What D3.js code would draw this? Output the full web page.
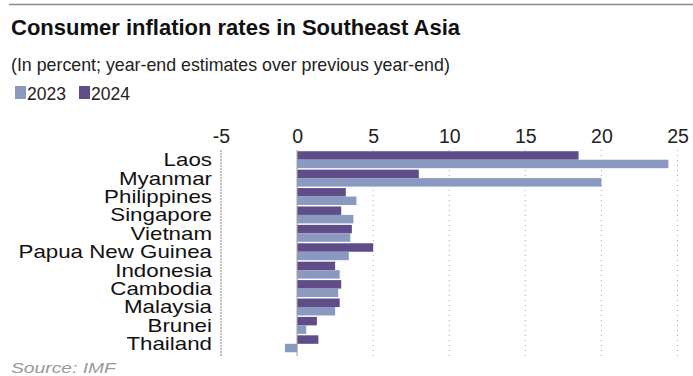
<!DOCTYPE html>
<html>
<head>
<meta charset="utf-8">
<script src="https://cdn.jsdelivr.net/npm/d3@7"></script>
<style>
  body { margin: 0; background: #fff; }
  text { font-family: "Liberation Sans", Arial, sans-serif; }
</style>
</head>
<body>
<script>
// Data
const countries = ["Laos", "Myanmar", "Philippines", "Singapore", "Vietnam",
  "Papua New Guinea", "Indonesia", "Cambodia", "Malaysia", "Brunei", "Thailand"];
const values2024 = [18.5, 8.0, 3.2, 2.9, 3.6, 5.0, 2.5, 2.9, 2.8, 1.3, 1.4];
const values2023 = [24.4, 20.0, 3.9, 3.7, 3.5, 3.4, 2.8, 2.7, 2.5, 0.6, -0.8];
const tickValues = [-5, 0, 5, 10, 15, 20, 25];

const W = 693, H = 376;
const colors = {"2023": "#8a99bf", "2024": "#5f4c88"};

const svg = d3.select("body").append("svg")
  .attr("width", W)
  .attr("height", H);

// top rule
svg.append("line")
  .attr("x1", 9).attr("x2", W).attr("y1", 4.5).attr("y2", 4.5)
  .attr("stroke", "#8a8a8a").attr("stroke-width", 1.5);

svg.append("text")
  .attr("x", 11).attr("y", 35)
  .attr("font-size", 22).attr("font-weight", "bold").attr("fill", "#111")
  .text("Consumer inflation rates in Southeast Asia");

svg.append("text")
  .attr("x", 11).attr("y", 71)
  .attr("font-size", 17.8).attr("fill", "#222")
  .text("(In percent; year-end estimates over previous year-end)");

// legend
const legend = [["2023", 15], ["2024", 79]];
legend.forEach(([k, x]) => {
  svg.append("rect").attr("x", x).attr("y", 86).attr("width", 11).attr("height", 13)
    .attr("fill", colors[k]);
  svg.append("text").attr("x", x + 12).attr("y", 100)
    .attr("font-size", 17.5).attr("fill", "#222").text(k);
});

// scales
const x = d3.scaleLinear().domain([-5, 25]).range([221, 677.5]);
const y = d3.scaleBand().domain(countries).range([150.5, 353]).paddingInner(0.08).paddingOuter(0.04);

// axis on top
const xAxis = svg.append("g")
  .attr("transform", "translate(0,143)")
  .call(d3.axisTop(x).tickValues(tickValues).tickSize(0).tickPadding(0)
    .tickFormat(d => String(d)));
xAxis.select(".domain").remove();
xAxis.selectAll(".tick text")
  .attr("font-size", 19.5)
  .attr("fill", "#222")
  .attr("font-family", "Liberation Sans, Arial, sans-serif");

// dotted grid
svg.append("g").selectAll("line")
  .data(tickValues.filter(d => d !== 0))
  .join("line")
  .attr("x1", d => x(d)).attr("x2", d => x(d))
  .attr("y1", 150).attr("y2", 356)
  .attr("stroke", d => d === -5 ? "#999" : "#aaa")
  .attr("stroke-width", d => d === -5 ? 1.2 : 1)
  .attr("stroke-dasharray", d => d === -5 ? "2,1" : "1,4");

// bars
const half = y.bandwidth() / 2;
const rows = svg.append("g").selectAll("g")
  .data(countries)
  .join("g")
  .attr("transform", d => `translate(0,${y(d)})`);

rows.append("rect")
  .attr("x", (d, i) => x(Math.min(0, values2024[i])))
  .attr("width", (d, i) => Math.abs(x(values2024[i]) - x(0)))
  .attr("y", 0).attr("height", half)
  .attr("fill", colors["2024"]);

rows.append("rect")
  .attr("x", (d, i) => x(Math.min(0, values2023[i])))
  .attr("width", (d, i) => Math.abs(x(values2023[i]) - x(0)))
  .attr("y", half).attr("height", half)
  .attr("fill", colors["2023"]);

// zero line
svg.append("line")
  .attr("x1", x(0)).attr("x2", x(0)).attr("y1", 150).attr("y2", 356)
  .attr("stroke", "#999").attr("stroke-width", 1);

// country labels, lettering is horizontally wide in the original
const sx = 1.24;
rows.append("text")
  .attr("transform", `translate(212,${y.bandwidth() / 2 + 6.5}) scale(${sx},1)`)
  .attr("text-anchor", "end")
  .attr("font-size", 18)
  .attr("fill", "#111")
  .text(d => d);

svg.append("text")
  .attr("transform", "translate(11,372.5) scale(1.25,1)")
  .attr("font-size", 15.4).attr("font-style", "italic").attr("fill", "#999")
  .text("Source: IMF");
</script>
</body>
</html>
